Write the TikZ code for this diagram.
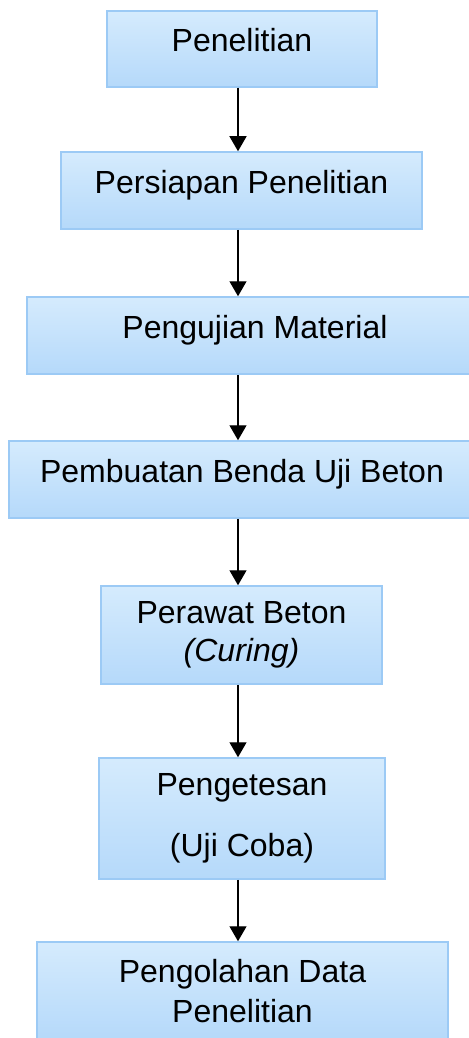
\documentclass[tikz,border=0pt]{standalone}
\usepackage{fontspec}
\setmainfont{Liberation Sans}
\usetikzlibrary{arrows.meta}

\definecolor{boxtop}{RGB}{213,235,253}
\definecolor{boxbottom}{RGB}{181,217,250}
\definecolor{boxline}{RGB}{156,202,245}
\def\spinex{238}  % x of the arrow column

\tikzset{
  flowbox/.style={draw=boxline, line width=0.75pt, top color=boxtop,
    bottom color=boxbottom, inner sep=0pt, align=center},
  oneline/.style={flowbox, text height=0.75em, text depth=0.566em}, % lift single lines a bit
  flowarrow/.style={line width=0.65pt, -{Triangle[width=8.5pt,length=7.5pt]}},
}

\begin{document}
\begin{tikzpicture}[x=0.5pt, y=-0.5pt]
  \fontsize{16pt}{19pt}\selectfont
  \useasboundingbox (0,0) rectangle (469,1038);

  % the steps, top to bottom
  \node[oneline, minimum width=135pt, minimum height=38pt]   (b1) at (242,49)    {Penelitian};
  \node[oneline, minimum width=180.5pt, minimum height=38.5pt] (b2) at (241.5,190.5) {Persiapan Penelitian};
  \node[oneline, minimum width=228pt, minimum height=38.5pt] (b3) at (255,335.5)  {Pengujian Material};
  \node[oneline, minimum width=233pt, minimum height=38.5pt] (b4) at (242,479.5)  {Pembuatan Benda Uji Beton};
  \node[flowbox, minimum width=140.5pt, minimum height=49pt] (b5) at (241.5,635)  {Perawat Beton\\\textit{(Curing)}};
  \node[flowbox, minimum width=143pt, minimum height=60.5pt] (b6) at (242,818.5)  {Pengetesan\\[11.8pt](Uji Coba)};
  \node[flowbox, minimum width=205.5pt, minimum height=49pt] (b7) at (242.5,991)  {Pengolahan Data\\[1pt]Penelitian};

  % arrows down the column
  \coordinate (spine) at (\spinex,0);
  \foreach \from/\to in {b1/b2, b2/b3, b3/b4, b4/b5, b5/b6, b6/b7}
    \draw[flowarrow] (\from.south -| spine) -- (\to.north -| spine);
\end{tikzpicture}
\end{document}
